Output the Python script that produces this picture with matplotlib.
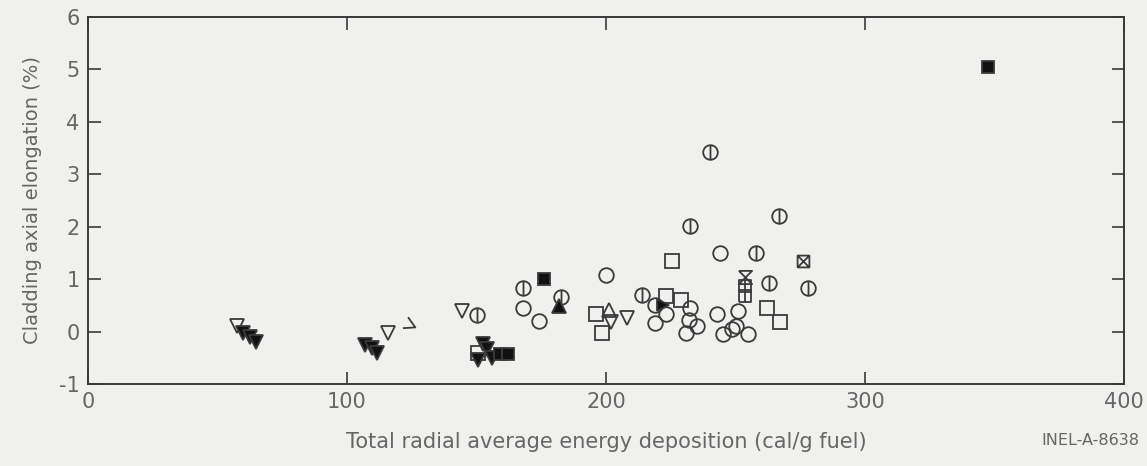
import numpy as np
import matplotlib.pyplot as plt
from matplotlib.path import Path

plt.rcParams['axes.unicode_minus'] = False

# values (energy in cal/g fuel, elongation in %)
circ_x = [168, 174, 200, 219, 223, 219, 232.5, 232, 231, 235, 244, 243, 251, 250, 245, 255, 248.5]
circ_y = [0.44, 0.21, 1.07, 0.5, 0.34, 0.17, 0.44, 0.23, -0.02, 0.1, 1.49, 0.33, 0.4, 0.1, -0.04, -0.04, 0.05]

cbar_x = [150, 168, 182.5, 214, 240, 232.4, 266.8, 258, 263, 278]
cbar_y = [0.32, 0.84, 0.65, 0.69, 3.42, 2.02, 2.21, 1.49, 0.93, 0.84]

sq_x = [196, 198.5, 225.5, 223, 229, 262, 267, 150.5]
sq_y = [0.34, -0.02, 1.34, 0.67, 0.6, 0.44, 0.19, -0.40]

dtri_x = [57.5, 116, 144.4, 202, 208]
dtri_y = [0.11, -0.03, 0.40, 0.18, 0.25]

utri_x = [201]
utri_y = [0.42]

fdtri_x = [60, 62.5, 65, 107, 109.5, 111.5, 152.5, 154, 150.6, 156]
fdtri_y = [-0.02, -0.1, -0.2, -0.25, -0.32, -0.4, -0.23, -0.33, -0.55, -0.5]

fsq_x = [176, 159, 162, 347.5]
fsq_y = [1.01, -0.42, -0.42, 5.04]

futri_x = [182]
futri_y = [0.48]

frtri_x = [222]
frtri_y = [0.5]

hglass_x = [253.7]
hglass_y = [1.05]

sqbar_x = [253.7, 253.7]
sqbar_y = [0.86, 0.68]

xsq_x = [276]
xsq_y = [1.34]

part_x = [124]
part_y = [0.15]

# custom marker shapes
circle_bar = Path.make_compound_path(Path.unit_circle(), Path([[0, -1], [0, 1]]))
sq = [[-1, -1], [1, -1], [1, 1], [-1, 1], [-1, -1]]
square_bar = Path.make_compound_path(Path(sq), Path([[0, -1], [0, 1]]))
cross_square = Path.make_compound_path(Path(sq), Path([[-1, -1], [1, 1]]), Path([[-1, 1], [1, -1]]))
hourglass = Path([[-1, 1], [1, 1], [-1, -1], [1, -1], [-1, 1]])
part_tri = Path([[-0.2, 1], [0.8, -0.4], [-0.9, -0.5]])

ink = '#3a3a3a'
txt = '#666666'
bg = '#f0f0ee'

fig = plt.figure(figsize=(11.47, 4.66), dpi=100, facecolor=bg)
ax = fig.add_axes([0.0767, 0.176, 0.9033, 0.7875])
ax.set_facecolor(bg)

kw = dict(linestyle='none', markeredgecolor=ink, markeredgewidth=1.3)
ax.plot(sq_x, sq_y, marker='s', markersize=9.5, markerfacecolor='none', **kw)
ax.plot(circ_x, circ_y, marker='o', markersize=10.5, markerfacecolor='none', **kw)
ax.plot(cbar_x, cbar_y, marker=circle_bar, markersize=10.5, markerfacecolor='none', **kw)
ax.plot(dtri_x, dtri_y, marker='v', markersize=10.5, markerfacecolor='none', **kw)
ax.plot(utri_x, utri_y, marker='^', markersize=10.5, markerfacecolor='none', **kw)
ax.plot(part_x, part_y, marker=part_tri, markersize=10.5, markerfacecolor='none', **kw)
ax.plot(fdtri_x, fdtri_y, marker='v', markersize=10, markerfacecolor='#111111', **kw)
ax.plot(fsq_x, fsq_y, marker='s', markersize=9, markerfacecolor='#111111', **kw)
ax.plot(futri_x, futri_y, marker='^', markersize=10, markerfacecolor='#111111', **kw)
ax.plot(frtri_x, frtri_y, marker='>', markersize=9, markerfacecolor='#111111', **kw)
ax.plot(hglass_x, hglass_y, marker=hourglass, markersize=9.5, markerfacecolor='none', **kw)
ax.plot(sqbar_x, sqbar_y, marker=square_bar, markersize=8.5, markerfacecolor='none', **kw)
ax.plot(xsq_x, xsq_y, marker=cross_square, markersize=8.5, markerfacecolor='none', **kw)

ax.set_xlim(0, 400)
ax.set_ylim(-1, 6)
ax.set_xticks([0, 100, 200, 300, 400])
ax.set_yticks(range(-1, 7))
ax.tick_params(direction='in', length=9, width=1.2, color=ink, top=True, right=True,
               labelsize=15, labelcolor=txt, pad=6)
for s in ax.spines.values():
    s.set_color(ink)
    s.set_linewidth(1.4)

ax.set_xlabel('Total radial average energy deposition (cal/g fuel)', fontsize=15, color=txt, labelpad=14)
ax.set_ylabel('Cladding axial elongation (%)', fontsize=14, color=txt, labelpad=12)
fig.text(0.993, 0.055, 'INEL-A-8638', fontsize=11.5, color=txt, ha='right', va='center')

plt.savefig('out.png', dpi=100, facecolor=bg)
